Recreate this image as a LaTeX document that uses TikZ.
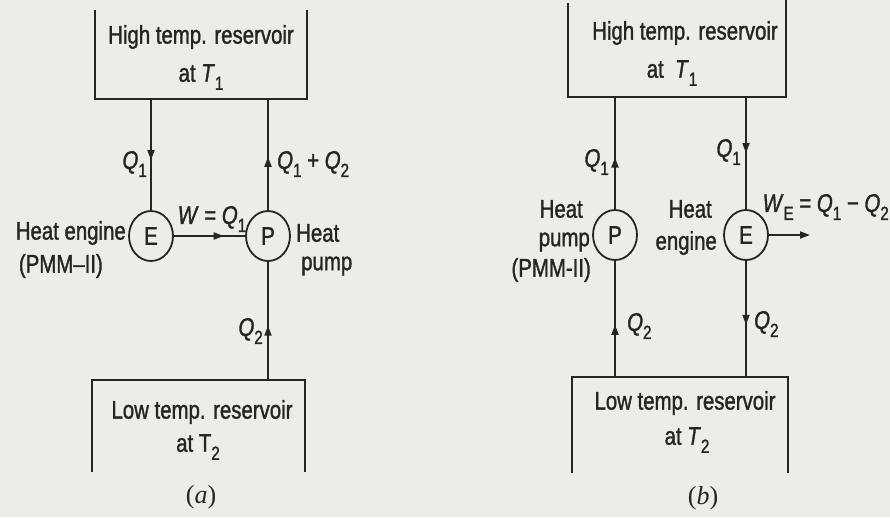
\documentclass[tikz,border=0pt]{standalone}
\usepackage{fontspec}
\setmainfont{Liberation Sans}
\newfontfamily\lab[FakeStretch=0.8,FakeBold=1.3]{Liberation Sans}
\newfontfamily\capfont{Liberation Serif}
\usetikzlibrary{arrows.meta,decorations.markings,shapes.geometric}
\definecolor{paper}{RGB}{238,236,231}
\definecolor{ink}{RGB}{40,36,34}
\newcommand{\sbs}[1]{\raisebox{-0.6ex}{\fontsize{19}{19}\selectfont #1}}
\newcommand{\Qv}[1]{\textit{Q}\sbs{#1}}
\begin{document}
\begin{tikzpicture}[x=1pt,y=-1pt,
  every node/.style={font=\lab\fontsize{25.5}{29}\selectfont, text=ink, inner sep=0pt},
  wall/.style={draw=ink, line width=2.2pt},
  flow/.style={draw=ink, line width=1.8pt},
  dev/.style={ellipse, draw=ink, line width=1.8pt, minimum width=44pt, minimum height=50pt},
  midarrow/.style={postaction={decorate}, decoration={markings, mark=at position #1 with {\arrow{Triangle[length=10pt,width=7pt]}}}},
  captxt/.style={font=\capfont\fontsize{26}{30}\selectfont}
]
\useasboundingbox (0,0) rectangle (890,517);
\fill[paper] (0,0) rectangle (890,517);

% ---------- (a) ----------
\draw[wall] (95,10) -- (95,99) -- (307,99) -- (307,10);
\node (hta) at (201,37) {High temp. reservoir};
\node (hta2) at (201,77) {at \textit{T}\sbs{1}};
\coordinate (ha1) at (151,99);
\coordinate (ha2) at (268,99);
\node[dev] (E1) at (151,236) {E};
\node[dev] (P1) at (268,236) {P};
\draw[wall] (92,472) -- (92,380) -- (305,380) -- (305,472);
\coordinate (la2) at (268,380);
\draw[flow, midarrow=0.55] (ha1) -- (E1.north);
\draw[flow, midarrow=0.48] (P1.north) -- (ha2);
\draw[flow, midarrow=0.7] (E1.east) -- (P1.west);
\draw[flow, midarrow=0.46] (la2) -- (P1.south);

\node[anchor=east] (q1a) at (147,164) {\Qv{1}};
\node[anchor=west] (q12a) at (277,164) {\Qv{1} + \Qv{2}};
\node (wa) at (212,219) {\textit{W} = \Qv{1}};
\node[anchor=east] (hea) at (126,233) {Heat engine};
\node[anchor=east] (pmma) at (103,266) {(PMM–II)};
\node[anchor=west] (hpa) at (296,233) {Heat};
\node[anchor=west] (hpa2) at (301,266) {pump};
\node[anchor=east] (q2a) at (263,331) {\Qv{2}};
\node (lta) at (202,412) {Low temp. reservoir};
\node (lta2) at (198,447) {at T\sbs{2}};
\node[captxt] (capa) at (201,497) {(\textit{a})};

% ---------- (b) ----------
\draw[wall] (568,3) -- (568,97) -- (786,97) -- (786,0);
\node (htb) at (685,33) {High temp. reservoir};
\node (htb2) at (672,73) {at\ \ \textit{T}\sbs{1}};
\coordinate (hb1) at (615,97);
\coordinate (hb2) at (746,97);
\node[dev] (P2) at (615,235) {P};
\node[dev] (E2) at (746,235) {E};
\draw[wall] (572,473) -- (572,377) -- (788,377) -- (788,473);
\coordinate (lb1) at (615,377);
\coordinate (lb2) at (746,377);
\coordinate (wb) at (810,235);
\draw[flow, midarrow=0.46] (P2.north) -- (hb1);
\draw[flow, midarrow=0.5] (hb2) -- (E2.north);
\draw[flow, midarrow=0.45] (lb1) -- (P2.south);
\draw[flow, midarrow=0.55] (E2.south) -- (lb2);
\draw[flow, -{Triangle[length=10pt,width=7pt]}] (E2.east) -- (wb);

\node[anchor=east] (q1b) at (609,162) {\Qv{1}};
\node[anchor=east] (q1b2) at (741,152) {\Qv{1}};
\node[anchor=east] (wlb) at (889,207) {\textit{W}\sbs{E} = \Qv{1} − \Qv{2}};
\node[anchor=east] (hpb) at (583,209) {Heat};
\node[anchor=east] (hpb2) at (590,242) {pump};
\node[anchor=east] (pmmb) at (591,270) {(PMM-II)};
\node[anchor=east] (heb) at (712,209) {Heat};
\node[anchor=east] (heb2) at (717,243) {engine};
\node[anchor=west] (q2b) at (627,326) {\Qv{2}};
\node[anchor=west] (q2b2) at (754,324) {\Qv{2}};
\node (ltb) at (685,403) {Low temp. reservoir};
\node (ltb2) at (687,440) {at \textit{T}\sbs{2}};
\node[captxt] (capb) at (703,498) {(\textit{b})};
\end{tikzpicture}
\end{document}
